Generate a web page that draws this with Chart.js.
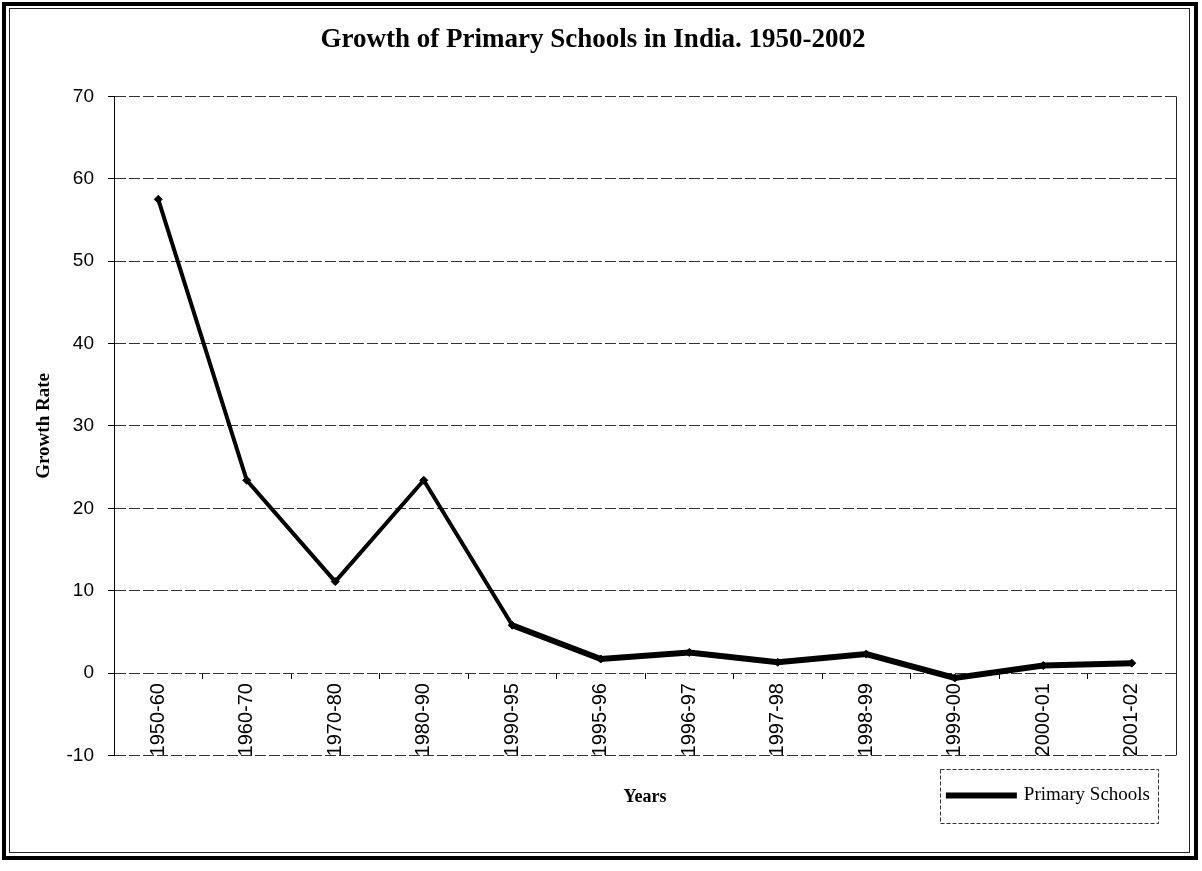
<!DOCTYPE html>
<html>
<head>
<meta charset="utf-8">
<script src="https://cdn.jsdelivr.net/npm/chart.js@4.4.0/dist/chart.umd.min.js"></script>
<style>
  html, body { margin: 0; padding: 0; background: #fff; }
  #wrap { position: relative; width: 1202px; height: 871px; }
  canvas { position: absolute; left: 0; top: 0; }
  #frame { position: absolute; left: 2px; top: 2px; width: 1188px; height: 850px;
           border: 4px solid #000; pointer-events: none; }
  #frame2 { position: absolute; left: 9px; top: 8px; width: 1179px; height: 843px;
            border: 1px solid #222; pointer-events: none; }
</style>
</head>
<body>
<div id="wrap">
  <canvas id="c" width="1202" height="871"></canvas>
  <div id="frame"></div>
  <div id="frame2"></div>
</div>
<script>
const categories = ["1950-60","1960-70","1970-80","1980-90","1990-95","1995-96","1996-97","1997-98","1998-99","1999-00","2000-01","2001-02"];
const primarySchools = [57.5, 23.4, 11.1, 23.4, 5.8, 1.7, 2.5, 1.3, 2.3, -0.6, 0.9, 1.2];
const yTicks = { min: -10, max: 70, step: 10 };
const titleText = "Growth of Primary Schools in India. 1950-2002";
const seriesName = "Primary Schools";
const xTitle = "Years";
const yTitle = "Growth Rate";

const sansFont = "'Liberation Sans', Arial, sans-serif";
const serifFont = "'Liberation Serif', 'Times New Roman', serif";

const framePlugin = {
  id: 'framePlugin',
  afterDraw(chart) {
    const ctx = chart.ctx;
    const a = chart.chartArea;
    ctx.save();
    ctx.strokeStyle = '#222';
    ctx.lineWidth = 1;
    ctx.beginPath();
    ctx.moveTo(Math.round(a.right) + 0.5, a.top);
    ctx.lineTo(Math.round(a.right) + 0.5, a.bottom);
    ctx.stroke();
    const lg = chart.legend;
    if (lg && lg.legendHitBoxes && lg.legendHitBoxes.length) {
      const h = lg.legendHitBoxes[0];
      const cy = h.top + h.height / 2;
      ctx.strokeStyle = '#333';
      ctx.setLineDash([4, 2]);
      ctx.strokeRect(Math.round(h.left - 8) + 0.5, Math.round(cy - 27) + 0.5,
                     Math.round(h.width + 16), 54);
    }
    ctx.restore();
  }
};

new Chart(document.getElementById('c'), {
  type: 'line',
  data: {
    labels: categories,
    datasets: [{
      label: seriesName,
      data: primarySchools,
      borderColor: '#000',
      backgroundColor: '#000',
      borderWidth: 5,
      pointStyle: 'rectRot',
      pointRadius: 4,
      pointBackgroundColor: '#000',
      pointBorderColor: '#000',
      pointBorderWidth: 1,
      tension: 0,
      xAxisID: 'x',
      segment: {
        borderWidth: ctx => (ctx.p0DataIndex < 4 ? 4 : 6)
      }
    }]
  },
  options: {
    responsive: false,
    animation: false,
    devicePixelRatio: 1,
    layout: { padding: { top: 10, left: 10, right: 26, bottom: 56 } },
    plugins: {
      title: {
        display: true,
        text: titleText,
        color: '#000',
        font: { family: serifFont, size: 27, weight: 'bold' },
        padding: { top: 14, bottom: 40 }
      },
      legend: {
        display: true,
        position: 'bottom',
        align: 'end',
        labels: {
          color: '#000',
          font: { family: serifFont, size: 19 },
          boxWidth: 66,
          boxHeight: 1,
          padding: 26
        }
      },
      tooltip: { enabled: false }
    },
    scales: {
      x: {
        type: 'category',
        position: { y: 0 },
        offset: true,
        afterFit(scale) { scale.height = 0; },
        grid: {
          display: true,
          offset: true,
          drawOnChartArea: false,
          drawTicks: true,
          tickLength: 6,
          tickColor: '#000',
          color: '#000'
        },
        border: { display: false },
        ticks: {
          autoSkip: false,
          minRotation: 90,
          maxRotation: 90,
          padding: 4,
          color: '#000',
          font: { family: sansFont, size: 20 }
        }
      },
      x2: {
        type: 'category',
        position: 'bottom',
        offset: true,
        grid: { display: false, drawTicks: false },
        border: { display: false },
        ticks: { display: false },
        title: {
          display: true,
          text: xTitle,
          color: '#000',
          font: { family: serifFont, size: 18, weight: 'bold' },
          padding: { top: 31, bottom: -48 }
        }
      },
      y: {
        type: 'linear',
        min: yTicks.min,
        max: yTicks.max,
        afterFit(scale) { scale.width = 104; },
        ticks: {
          stepSize: yTicks.step,
          padding: 14,
          color: '#000',
          font: { family: sansFont, size: 19 }
        },
        grid: {
          color: '#333',
          lineWidth: 1,
          tickLength: 6,
          tickColor: '#000',
          tickBorderDash: []
        },
        border: { display: true, color: '#000', width: 1, dash: [11, 3] },
        title: {
          display: true,
          text: yTitle,
          color: '#000',
          font: { family: serifFont, size: 19, weight: 'bold' },
          padding: { top: 23, bottom: 0 }
        }
      }
    }
  },
  plugins: [framePlugin]
});
</script>
</body>
</html>
